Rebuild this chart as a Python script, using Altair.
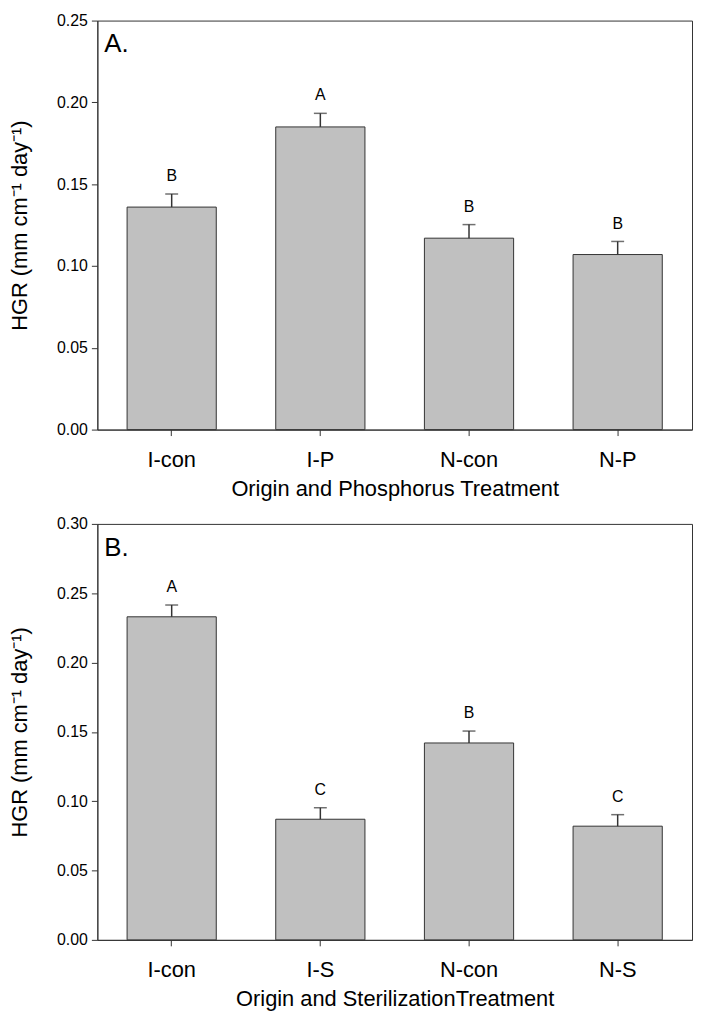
import altair as alt
import pandas as pd

# Panel A data
cats_a = ["I-con", "I-P", "N-con", "N-P"]
mean_a = [0.136, 0.185, 0.117, 0.107]
se_a = [0.008, 0.0083, 0.0083, 0.008]
letters_a = ["B", "A", "B", "B"]

# Panel B data
cats_b = ["I-con", "I-S", "N-con", "N-S"]
mean_b = [0.233, 0.087, 0.142, 0.082]
se_b = [0.0085, 0.0083, 0.0086, 0.0083]
letters_b = ["A", "C", "B", "C"]

yticks_a = [0.0, 0.05, 0.10, 0.15, 0.20, 0.25]
yticks_b = [0.0, 0.05, 0.10, 0.15, 0.20, 0.25, 0.30]

FONT = "Liberation Sans"
DARK = "#333333"
YTITLE = "HGR (mm cm\u207b\u00b9 day\u207b\u00b9)"


def panel(cats, means, ses, letters, ticks, ymax, label, xtitle, height):
    df = pd.DataFrame({
        "cat": cats,
        "mean": means,
        "se": ses,
        "letter": letters,
    })
    df["top"] = df["mean"] + df["se"]

    xscale = alt.Scale(paddingInner=0.4, paddingOuter=0.2)
    xaxis = alt.Axis(
        title=xtitle, labelAngle=0, labelFontSize=22, titleFontSize=22,
        labelPadding=14, tickSize=6, titlePadding=8, titleFontWeight="normal",
        labelFont=FONT, titleFont=FONT, labelColor="black", titleColor="black",
        domainColor=DARK, tickColor=DARK,
    )
    yscale = alt.Scale(domain=[0, ymax], nice=False, zero=True)
    yaxis = alt.Axis(
        title=YTITLE, values=ticks, format=".2f", labelFontSize=16,
        titleFontSize=22, titleFontWeight="normal", tickSize=6, labelPadding=4,
        titleX=-66, labelFont=FONT, titleFont=FONT, labelColor="black",
        titleColor="black", domainColor=DARK, tickColor=DARK, grid=False,
    )

    base = alt.Chart(df)
    x = alt.X("cat:N", sort=cats, scale=xscale, axis=xaxis)

    bars = base.mark_bar(fill="#c0c0c0", stroke=DARK, strokeWidth=1).encode(
        x=x, y=alt.Y("mean:Q", scale=yscale, axis=yaxis)
    )
    err = base.mark_rule(color=DARK, strokeWidth=1.5).encode(
        x=x, y=alt.Y("mean:Q", scale=yscale, axis=yaxis), y2="top:Q"
    )
    cap = base.mark_tick(color=DARK, size=13, thickness=1.5, orient="horizontal").encode(
        x=x, y=alt.Y("top:Q", scale=yscale, axis=yaxis)
    )
    txt = base.mark_text(
        fontSize=16, font=FONT, color="black", baseline="alphabetic", dy=-13
    ).encode(
        x=x, y=alt.Y("top:Q", scale=yscale, axis=yaxis), text="letter:N"
    )
    lab = alt.Chart(pd.DataFrame({"t": [label]})).mark_text(
        fontSize=26, font=FONT, color="black", align="left", baseline="alphabetic"
    ).encode(x=alt.value(7), y=alt.value(32), text="t:N")

    return alt.layer(bars, err, cap, txt, lab).properties(width=599, height=height)


pa = panel(cats_a, mean_a, se_a, letters_a, yticks_a, 0.25, "A.",
           "Origin and Phosphorus Treatment", 412)
pb = panel(cats_b, mean_b, se_b, letters_b, yticks_b, 0.30, "B.",
           "Origin and SterilizationTreatment", 419)

chart = alt.vconcat(pa, pb, spacing=15).resolve_scale(
    x="independent", y="independent"
).properties(
    padding={"left": 0, "top": 0, "right": 0, "bottom": 0}
).configure_view(
    stroke=DARK, strokeWidth=1
)

chart.save("out.html", embed_options={"renderer": "svg", "actions": False})
